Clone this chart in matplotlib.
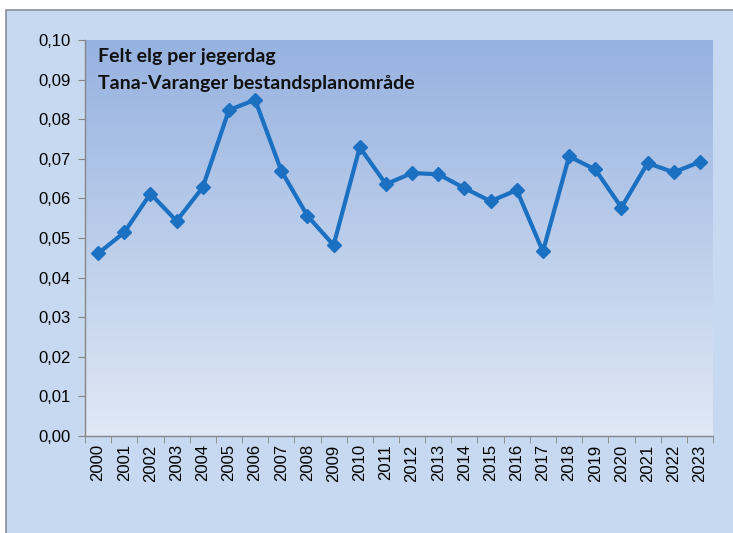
import numpy as np
import matplotlib.pyplot as plt
from matplotlib.patches import Rectangle

years = [str(y) for y in range(2000, 2024)]
felt_per_dag = [0.0461, 0.0514, 0.0612, 0.0543, 0.0628, 0.0823, 0.0849, 0.0670,
                0.0556, 0.0482, 0.0729, 0.0636, 0.0664, 0.0661, 0.0626, 0.0593,
                0.0621, 0.0466, 0.0706, 0.0673, 0.0577, 0.0689, 0.0666, 0.0692]
y_ticks = [i / 100 for i in range(11)]
y_labels = [f"{v:.2f}".replace(".", ",") for v in y_ticks]
title_lines = ["Felt elg per jegerdag", "Tana-Varanger bestandsplanområde"]

plt.rcParams['font.family'] = ['Liberation Sans', 'DejaVu Sans']

fig = plt.figure(figsize=(7.33, 5.33), dpi=100)
fig.patch.set_facecolor('white')
# outer chart frame
fig.patches.append(Rectangle((6 / 733, -0.01), 1.0, 1 - 10 / 533 + 0.01,
                             transform=fig.transFigure, facecolor='#c6d9f0',
                             edgecolor='#8a8f99', linewidth=1.2, zorder=-10))

ax = fig.add_axes([85 / 733, 1 - 436 / 533, (713 - 85) / 733, (436 - 40) / 533])
ax.set_facecolor('none')
x = np.arange(len(years))

# gradient plot area, darker at the top
grad = np.linspace(0, 1, 256).reshape(-1, 1)
top = np.array([150, 178, 224]) / 255
bot = np.array([224, 232, 245]) / 255
img = top[None, None, :] * (1 - grad[:, :, None]) + bot[None, None, :] * grad[:, :, None]
ax.imshow(img, extent=[-0.5, len(years) - 0.5, 0.0, 0.10], aspect='auto',
          origin='upper', zorder=0)

ax.plot(x, felt_per_dag, color='#1b70c2', linewidth=3.0, marker='D',
        markersize=7.5, zorder=3)

ax.set_xlim(-0.5, len(years) - 0.5)
ax.set_ylim(0, 0.10)
ax.set_yticks(y_ticks)
ax.set_yticklabels(y_labels, fontsize=12)
ax.set_xticks(x)
ax.set_xticklabels(years, rotation=90, fontsize=12)
ax.set_xticks(np.arange(-0.5, len(years)), minor=True)
ax.tick_params(axis='x', which='major', length=0, pad=6)
ax.tick_params(axis='x', which='minor', length=5, color='#868686', direction='out')
ax.tick_params(axis='y', length=5, color='#868686', direction='out', pad=5)

for s in ['top', 'right']:
    ax.spines[s].set_visible(False)
for s in ['left', 'bottom']:
    ax.spines[s].set_color('#868686')
    ax.spines[s].set_linewidth(1.0)

ax.text(0.02, 0.98, title_lines[0] + "\n" + title_lines[1], transform=ax.transAxes,
        ha='left', va='top', fontsize=14, fontweight='bold', family=['Lato', 'DejaVu Sans'],
        linespacing=1.7, color='#111111')

fig.savefig('out.png', dpi=100)
